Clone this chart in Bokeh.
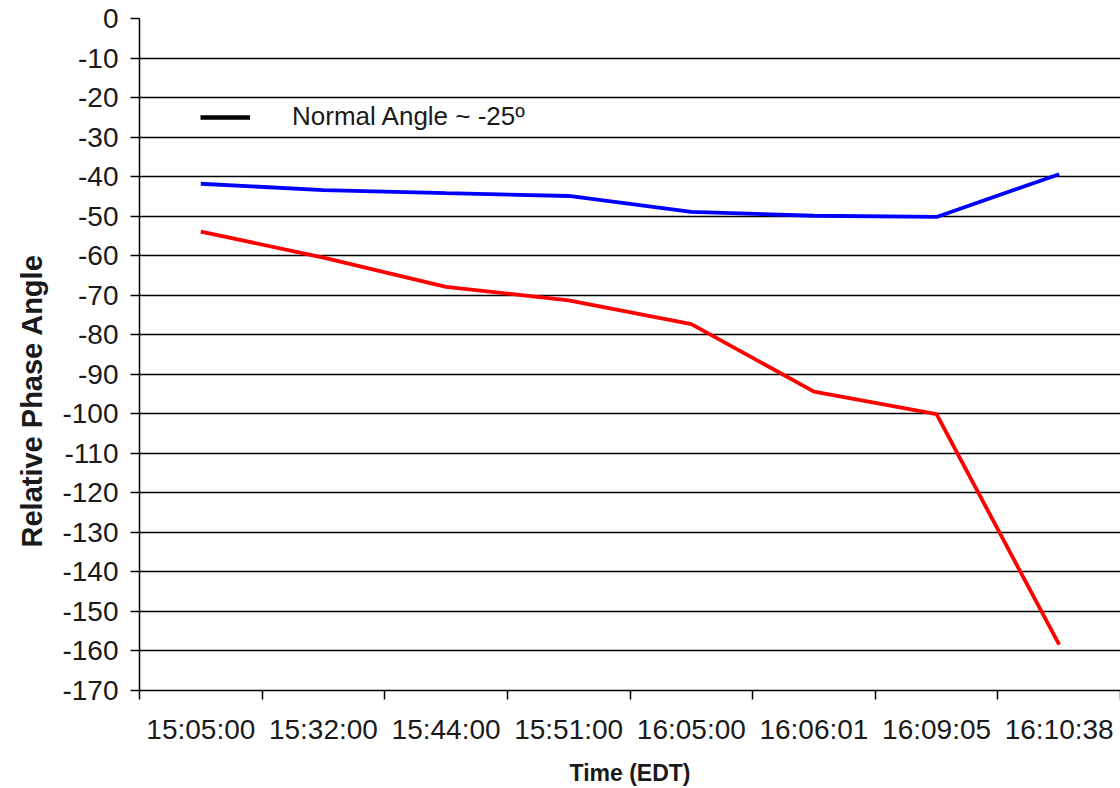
from bokeh.plotting import figure
from bokeh.models import Range1d, FixedTicker, Legend, LegendItem, Title
from bokeh.embed import file_html
from bokeh.resources import INLINE

times = ["15:05:00", "15:32:00", "15:44:00", "15:51:00",
         "16:05:00", "16:06:01", "16:09:05", "16:10:38"]
blue_angle = [-41.8, -43.4, -44.2, -44.9, -48.9, -49.9, -50.2, -39.4]
red_angle = [-53.9, -60.5, -67.9, -71.3, -77.3, -94.4, -100.1, -158.4]
normal_angle = -25
y_ticks = list(range(0, -171, -10))

FONT = "Liberation Sans"
TXT = "#1a1a1a"

pos = [i + 0.5 for i in range(len(times))]

p = figure(width=1120, height=788, output_backend="svg", toolbar_location=None,
           x_range=Range1d(0, len(times)), y_range=Range1d(-170, 0),
           min_border_left=139, min_border_right=0, min_border_top=18,
           min_border_bottom=97)
p.outline_line_color = None
p.background_fill_color = "white"
p.border_fill_color = "white"

p.xgrid.visible = False
p.ygrid.ticker = FixedTicker(ticks=y_ticks[1:])
p.ygrid.grid_line_color = "black"
p.ygrid.grid_line_width = 1.5

# y axis
p.yaxis.ticker = FixedTicker(ticks=y_ticks)
p.yaxis.major_label_overrides = {t: str(t) for t in y_ticks}
p.yaxis.major_tick_out = 9
p.yaxis.major_tick_in = 0
p.yaxis.minor_tick_line_color = None
p.yaxis.major_label_standoff = 12

# x axis
p.xaxis.ticker = FixedTicker(ticks=pos, minor_ticks=list(range(len(times) + 1)))
p.xaxis.major_label_overrides = {x: t for x, t in zip(pos, times)}
p.xaxis.minor_tick_out = 9
p.xaxis.minor_tick_in = 0
p.xaxis.minor_tick_line_color = "black"
p.xaxis.minor_tick_line_width = 1.5
p.xaxis.major_label_standoff = 14
p.xaxis.axis_label = "Time (EDT)"
p.xaxis.axis_label_standoff = 12
p.xaxis.axis_label_text_font_size = "23px"
p.xaxis.axis_label_text_font_style = "bold"

for ax in (p.xaxis, p.yaxis):
    ax.axis_line_color = "black"
    ax.axis_line_width = 1.5
    ax.major_tick_line_width = 1.5
    ax.major_label_text_font = FONT
    ax.major_label_text_font_size = "28px"
    ax.major_label_text_color = TXT
    ax.axis_label_text_font = FONT
    ax.axis_label_text_color = TXT
p.yaxis.major_tick_line_color = "black"
p.xaxis.major_tick_line_color = None

# y axis title, placed like the reference (below the frame's centre)
p.add_layout(Title(text="Relative Phase Angle", align="left", offset=143,
                   standoff=23, text_font=FONT, text_font_size="29px",
                   text_font_style="bold", text_color=TXT), "left")

p.line(pos, blue_angle, line_color="#0000FF", line_width=3.8)
p.line(pos, red_angle, line_color="#FF0000", line_width=3.8)

normal_r = p.line([pos[0]], [normal_angle], line_color="black", line_width=4.5)

legend = Legend(items=[LegendItem(label=f"Normal Angle ~ {normal_angle}º", renderers=[normal_r])],
                location=(61, 558), glyph_width=50, glyph_height=30,
                label_standoff=42, padding=0, margin=0,
                border_line_color=None, background_fill_alpha=0,
                label_text_font=FONT, label_text_font_size="26px",
                label_text_color=TXT)
p.add_layout(legend)

open("out.html", "w").write(file_html(p, INLINE))
